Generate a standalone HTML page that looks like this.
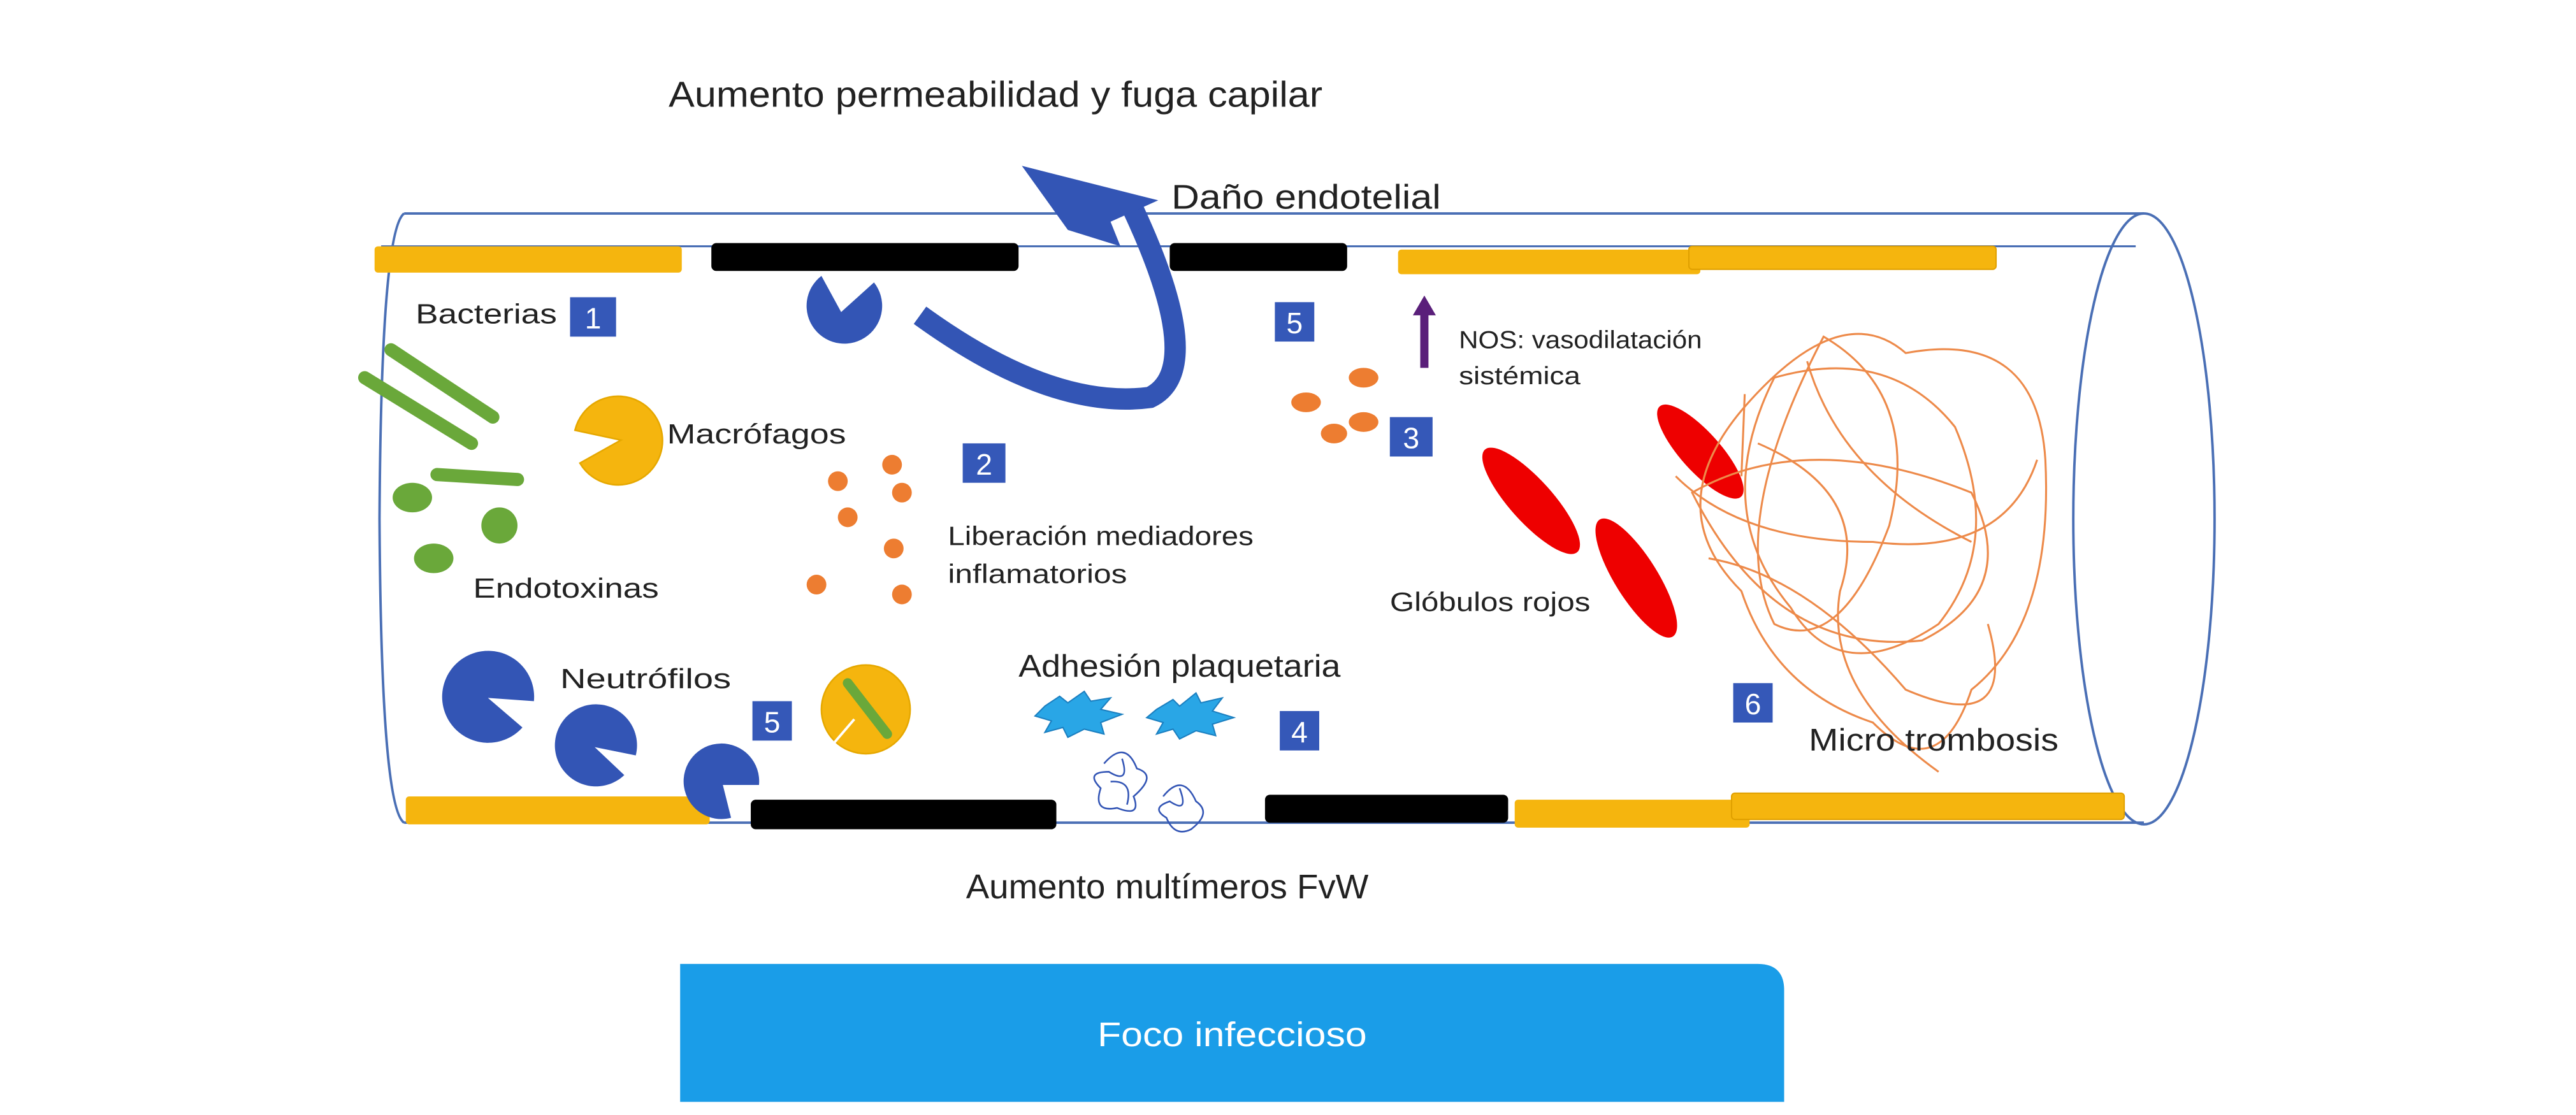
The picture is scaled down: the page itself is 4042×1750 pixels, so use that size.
<!DOCTYPE html>
<html><head><meta charset="utf-8"><style>
html,body{margin:0;padding:0;background:#fff;}
svg{display:block;}
text{font-family:"Liberation Sans",sans-serif;fill:#222;}
.n{fill:#fff;font-size:18px;text-anchor:middle;}
</style></head><body>
<svg width="4042" height="1750" viewBox="0 0 1568 679" preserveAspectRatio="none" xmlns="http://www.w3.org/2000/svg">
<rect width="1568" height="679" fill="#fff"/>
<!-- tube -->
<line x1="246" y1="130" x2="1305" y2="130" stroke="#4a6fb5" stroke-width="1.5"/>
<line x1="232" y1="150" x2="1300" y2="150" stroke="#4a6fb5" stroke-width="1.2"/>
<line x1="246" y1="501" x2="1305" y2="501" stroke="#4a6fb5" stroke-width="1.5"/>
<path d="M246,130 Q232,140 231,316 Q232,492 246,501" fill="none" stroke="#4a6fb5" stroke-width="1.5"/>
<ellipse cx="1305" cy="316" rx="43" ry="186" fill="none" stroke="#4a6fb5" stroke-width="1.5"/>
<!-- top bars -->
<rect x="228" y="150" width="187" height="16" rx="2" fill="#f5b50e"/>
<rect x="433" y="148" width="187" height="17" rx="3" fill="#000"/>
<rect x="712" y="148" width="108" height="17" rx="3" fill="#000"/>
<rect x="851" y="152" width="184" height="15" rx="2" fill="#f5b50e"/>
<rect x="1028" y="150" width="187" height="14" rx="2" fill="#f5b50e" stroke="#e0a000" stroke-width="0.8"/>
<!-- bottom bars -->
<rect x="247" y="485" width="185" height="17" rx="2" fill="#f5b50e"/>
<rect x="457" y="487" width="186" height="18" rx="3" fill="#000"/>
<rect x="770" y="484" width="148" height="17" rx="3" fill="#000"/>
<rect x="922" y="487" width="143" height="17" rx="2" fill="#f5b50e"/>
<rect x="1054" y="483" width="239" height="16" rx="2" fill="#f5b50e" stroke="#e0a000" stroke-width="0.8"/>
<!-- blue curved arrow -->
<path d="M560,192 Q640,250 700,242 Q735,225 690,128" fill="none" stroke="#3355b5" stroke-width="13"/>
<polygon points="622,101 705,122 676,135 682,150 650,140" fill="#3355b5"/>
<!-- pacmen blue -->
<g fill="#3355b5">
<path d="M512,190 L500,168 A23,23 0 1,0 532,172 Z"/>
<path d="M297,425 L325,427 A28,28 0 1,0 318,443 Z"/>
<path d="M362,455 L387,460 A25,25 0 1,0 380,472 Z"/>
<path d="M440,478 L462,478 A23,23 0 1,0 445,498 Z"/>
</g>
<!-- macrophage yellow -->
<path d="M378,268 L350,262 A27,27 0 1,1 353,282 Z" fill="#f5b50e" stroke="#e6a800"/>
<circle cx="527" cy="432" r="27" fill="#f5b50e" stroke="#e6a800"/>
<line x1="516" y1="416" x2="540" y2="447" stroke="#6aa83a" stroke-width="6" stroke-linecap="round"/>
<line x1="520" y1="438" x2="508" y2="452" stroke="#fff" stroke-width="1.5"/>
<!-- bacteria -->
<g stroke="#6aa83a" stroke-width="8" stroke-linecap="round">
<line x1="238" y1="213" x2="300" y2="254"/>
<line x1="222" y1="230" x2="287" y2="270"/>
<line x1="266" y1="289" x2="315" y2="292"/>
</g>
<g fill="#6aa83a">
<ellipse cx="251" cy="303" rx="12" ry="9"/>
<ellipse cx="304" cy="320" rx="11" ry="11"/>
<ellipse cx="264" cy="340" rx="12" ry="9"/>
</g>
<!-- orange dots -->
<g fill="#ed7d31">
<circle cx="510" cy="293" r="6"/><circle cx="543" cy="283" r="6"/><circle cx="549" cy="300" r="6"/>
<circle cx="516" cy="315" r="6"/><circle cx="544" cy="334" r="6"/><circle cx="497" cy="356" r="6"/><circle cx="549" cy="362" r="6"/>
<ellipse cx="795" cy="245" rx="9" ry="6"/><ellipse cx="830" cy="230" rx="9" ry="6"/>
<ellipse cx="830" cy="257" rx="9" ry="6"/><ellipse cx="812" cy="264" rx="8" ry="6"/>
</g>
<!-- purple arrow -->
<line x1="867" y1="224" x2="867" y2="190" stroke="#5a1f7a" stroke-width="5"/>
<polygon points="860,192 874,192 867,180" fill="#5a1f7a"/>
<!-- red cells -->
<g fill="#ee0000">
<ellipse cx="932" cy="305" rx="42" ry="13" transform="rotate(48 932 305)"/>
<ellipse cx="996" cy="352" rx="42" ry="13" transform="rotate(58 996 352)"/>
<ellipse cx="1035" cy="275" rx="37" ry="12" transform="rotate(48 1035 275)"/>
</g>
<!-- micro thrombosis scribble -->
<g fill="none" stroke="#ed8a4a" stroke-width="1.2">
<path d="M1060,250 Q1120,180 1160,215 Q1240,200 1245,280 Q1250,380 1200,420 Q1180,480 1140,440 Q1080,420 1060,360 Q1010,310 1060,250Z"/>
<path d="M1080,230 Q1150,210 1190,260 Q1220,330 1180,380 Q1120,420 1090,370 Q1040,310 1080,230Z"/>
<path d="M1030,300 Q1100,260 1200,300 Q1230,360 1170,390 Q1080,400 1030,300Z"/>
<path d="M1110,205 Q1170,240 1150,320 Q1120,400 1080,380 Q1050,320 1110,205Z"/>
<path d="M1020,290 Q1060,330 1140,330 Q1220,340 1240,280"/>
<path d="M1070,270 Q1140,300 1120,360 Q1110,420 1180,470"/>
<path d="M1040,340 Q1100,350 1160,420 Q1230,450 1210,380"/>
<path d="M1060,290 L1062,240 M1100,220 Q1120,290 1200,330"/>
</g>
<!-- platelets -->
<g fill="#29a6e6" stroke="#1b7fc0" stroke-width="0.8">
<polygon points="636,430 645,424 650,428 660,421 664,427 676,425 670,432 683,435 670,440 672,447 660,444 650,449 647,443 636,446 640,439 630,436"/>
<polygon points="704,432 714,426 718,430 728,422 731,428 744,425 738,433 751,437 738,441 740,448 728,445 718,450 714,444 704,447 708,440 698,437"/>
</g>
<g fill="none" stroke="#3355b5" stroke-width="1">
<path d="M672,465 Q685,450 692,468 Q705,472 690,485 Q695,498 680,492 Q665,495 670,480 Q660,470 675,470 Q688,478 683,462 M676,476 Q690,475 686,490"/>
<path d="M708,485 Q720,470 728,488 Q738,495 725,505 Q715,510 710,498 Q700,492 712,488 Q724,496 718,480"/>
</g>
<!-- number boxes -->
<g fill="#3558b8">
<rect x="347" y="181" width="28" height="24"/>
<rect x="776" y="184" width="24" height="24"/>
<rect x="586" y="270" width="26" height="24"/>
<rect x="846" y="254" width="26" height="24"/>
<rect x="458" y="427" width="24" height="24"/>
<rect x="779" y="433" width="24" height="24"/>
<rect x="1055" y="416" width="24" height="24"/>
</g>
<text class="n" x="361" y="200">1</text>
<text class="n" x="788" y="203">5</text>
<text class="n" x="599" y="289">2</text>
<text class="n" x="859" y="273">3</text>
<text class="n" x="470" y="446">5</text>
<text class="n" x="791" y="452">4</text>
<text class="n" x="1067" y="435">6</text>
<!-- labels -->
<g lengthAdjust="spacingAndGlyphs">
<text x="407" y="65" font-size="22" textLength="398" lengthAdjust="spacingAndGlyphs">Aumento permeabilidad y fuga capilar</text>
<text x="713" y="127" font-size="21" textLength="164" lengthAdjust="spacingAndGlyphs">Daño endotelial</text>
<text x="253" y="197" font-size="17" textLength="86" lengthAdjust="spacingAndGlyphs">Bacterias</text>
<text x="406" y="270" font-size="17" textLength="109" lengthAdjust="spacingAndGlyphs">Macrófagos</text>
<text x="288" y="364" font-size="17" textLength="113" lengthAdjust="spacingAndGlyphs">Endotoxinas</text>
<text x="577" y="332" font-size="16" textLength="186" lengthAdjust="spacingAndGlyphs">Liberación mediadores</text>
<text x="577" y="355" font-size="16" textLength="109" lengthAdjust="spacingAndGlyphs">inflamatorios</text>
<text x="888" y="212" font-size="15" textLength="148" lengthAdjust="spacingAndGlyphs">NOS: vasodilatación</text>
<text x="888" y="234" font-size="15" textLength="74" lengthAdjust="spacingAndGlyphs">sistémica</text>
<text x="846" y="372" font-size="16" textLength="122" lengthAdjust="spacingAndGlyphs">Glóbulos rojos</text>
<text x="341" y="419" font-size="17" textLength="104" lengthAdjust="spacingAndGlyphs">Neutrófilos</text>
<text x="620" y="412" font-size="19" textLength="196" lengthAdjust="spacingAndGlyphs">Adhesión plaquetaria</text>
<text x="1101" y="457" font-size="19" textLength="152" lengthAdjust="spacingAndGlyphs">Micro trombosis</text>
<text x="588" y="547" font-size="21" textLength="245" lengthAdjust="spacingAndGlyphs">Aumento multímeros FvW</text>
</g>
<!-- foco -->
<path d="M414,587 L1070,587 Q1086,587 1086,603 L1086,671 L414,671 Z" fill="#1a9de8"/>
<text x="668" y="637" font-size="21" textLength="164" lengthAdjust="spacingAndGlyphs" style="fill:#fff">Foco infeccioso</text>
</svg>
</body></html>
